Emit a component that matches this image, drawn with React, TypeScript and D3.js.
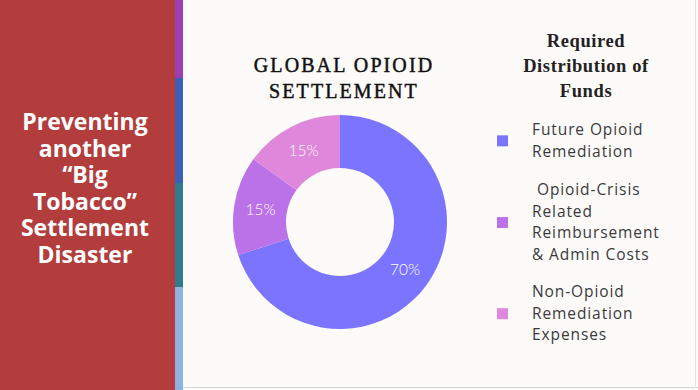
import * as d3 from 'd3';

// slice data
const categories = [
  'Future Opioid Remediation',
  'Opioid-Crisis Related Reimbursement & Admin Costs',
  'Non-Opioid Remediation Expenses',
];
const shares = [70, 15, 15];
const sliceColors = ['#7a74fe', '#bb72e8', '#df87da'];

// legend text, wrapped the way the slide wraps it
const legendLines = [
  ['Future Opioid', 'Remediation'],
  [' Opioid-Crisis', 'Related', 'Reimbursement', '& Admin Costs'],
  ['Non-Opioid', 'Remediation', 'Expenses'],
];
const titleLines = ['GLOBAL OPIOID', 'SETTLEMENT'];
const legendTitle = ['Required', 'Distribution of', 'Funds'];
const sideTitle = ['Preventing', 'another', '\u201cBig', 'Tobacco\u201d', 'Settlement', 'Disaster'];
const stripeColors = ['#9b40b2', '#3a5fb4', '#2e7b8c', '#8db3de'];
const stripeStops = [0, 78, 183, 287, 390];

const W = 698;
const H = 390;

export default function App() {
  const pie = d3
    .pie<number>()
    .sort(null)
    .value(d => d);
  const arcs = pie(shares);
  const arc = d3.arc<d3.PieArcDatum<number>>().innerRadius(54).outerRadius(107);
  const cx = 340;
  const cy = 222;

  return (
    <svg
      width={W}
      height={H}
      style={{ position: 'absolute', left: 0, top: 0, display: 'block' }}
    >
      <rect x={0} y={0} width={W} height={H} fill="#fdfafa" />
      <line x1={183} x2={W} y1={387.5} y2={387.5} stroke="#d8d6d6" />
      <line x1={695.5} x2={695.5} y1={0} y2={388} stroke="#e4e2e2" />

      {/* left panel */}
      <rect x={0} y={0} width={175} height={H} fill="#b33c3c" />
      {stripeColors.map((c, i) => (
        <rect
          key={c}
          x={175}
          y={stripeStops[i]}
          width={8}
          height={stripeStops[i + 1] - stripeStops[i]}
          fill={c}
        />
      ))}
      <text
        fill="#fff"
        fontFamily="'Open Sans', sans-serif"
        fontWeight={700}
        fontSize={23}
        textAnchor="middle"
      >
        {sideTitle.map((t, i) => (
          <tspan key={i} x={85} y={130 + i * 26.5}>
            {t}
          </tspan>
        ))}
      </text>

      {/* chart title */}
      <text
        fill="#111"
        stroke="#111"
        strokeWidth={0.45}
        fontFamily="'Liberation Serif', serif"
        fontSize={20}
        letterSpacing={2.1}
        textAnchor="middle"
      >
        {titleLines.map((t, i) => (
          <tspan key={i} x={344} y={72 + i * 25.5}>
            {t}
          </tspan>
        ))}
      </text>

      {/* donut */}
      <g transform={`translate(${cx},${cy})`}>
        {arcs.map((a, i) => (
          <path key={categories[i]} d={arc(a) ?? ''} fill={sliceColors[i]} />
        ))}
        {arcs.map((a, i) => {
          const [x, y] = arc.centroid(a);
          return (
            <text
              key={i}
              x={x}
              y={y}
              dy="0.35em"
              fill="#fff"
              fontFamily="Lato, sans-serif"
              fontWeight={300}
              fontSize={15.5}
              textAnchor="middle"
            >
              {a.data}%
            </text>
          );
        })}
      </g>

      {/* legend */}
      <text
        fill="#222"
        fontFamily="'Liberation Serif', serif"
        fontWeight={700}
        fontSize={18.5}
        letterSpacing={0.6}
        textAnchor="middle"
      >
        {legendTitle.map((t, i) => (
          <tspan key={i} x={586} y={47 + i * 25}>
            {t}
          </tspan>
        ))}
      </text>
      {legendLines.map((lines, i) => {
        const top = [135, 195, 297][i];
        const mid = top - 5 + ((lines.length - 1) * 21.7) / 2;
        return (
          <g key={i}>
            <rect x={497} y={mid - 5.5} width={11} height={11} fill={sliceColors[i]} />
            <text
              fill="#3a3a3a"
              fontFamily="'Open Sans', sans-serif"
              fontSize={15.5}
              letterSpacing={0.9}
            >
              {lines.map((t, j) => (
                <tspan key={j} x={532} y={top + j * 21.7} xmlSpace="preserve">
                  {t}
                </tspan>
              ))}
            </text>
          </g>
        );
      })}
    </svg>
  );
}
